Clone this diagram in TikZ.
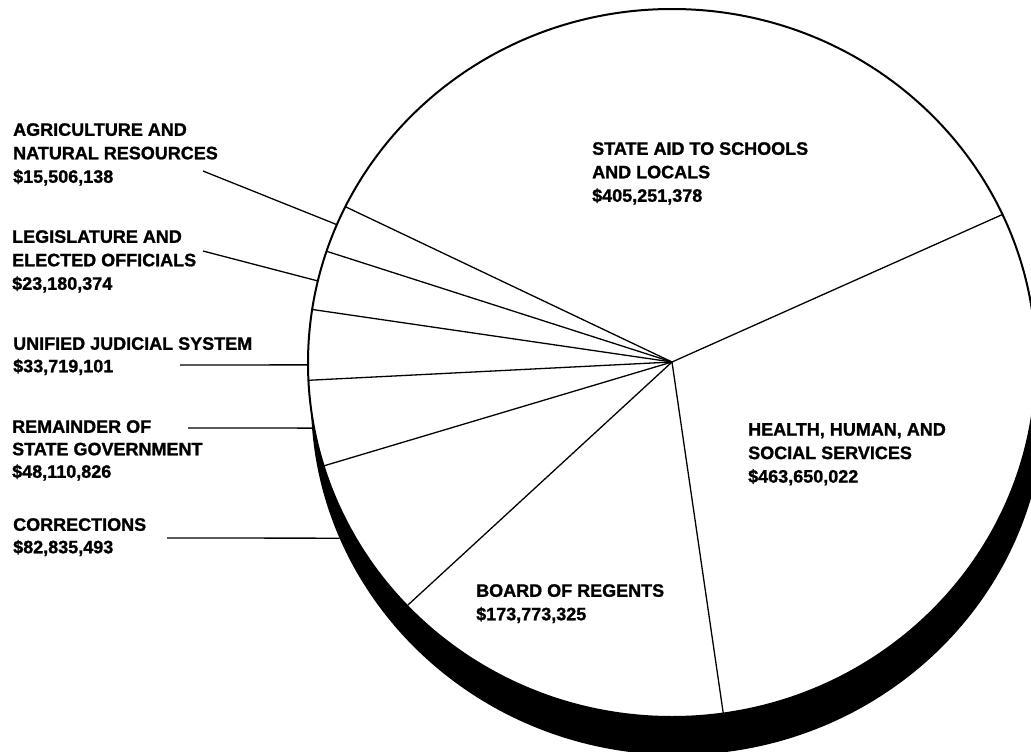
\documentclass[tikz,border=0pt]{standalone}
\usepackage{fontspec}
\setmainfont{Liberation Sans}[BoldFeatures={FakeBold=1.2}]
\usetikzlibrary{calc}
\newcommand\lblfont{\fontsize{18}{23.5}\selectfont\bfseries}
\newcommand\lblfontb{\fontsize{18}{22.5}\selectfont\bfseries}
\tikzset{
  lbl/.style={anchor=north west, inner sep=0pt, align=left, font=\lblfont},
  lblb/.style={lbl, font=\lblfontb},
  spoke/.style={draw=black, line width=1.3pt},
  rim/.style={draw=black, line width=2pt, fill=white},
}
\begin{document}
\begin{tikzpicture}[x=1pt,y=-1pt]
\useasboundingbox (0,0) rectangle (1031,752);
\fill[white] (0,0) rectangle (1031,752);
\clip (0,0) rectangle (1031,752);
% shadow
\coordinate (sh) at (678,401);
\fill[black] (sh) ellipse [x radius=367pt, y radius=354pt];
% pie
\coordinate (o) at (672,363);
\coordinate (c) at (672,362);
\path[rim] (o) ellipse [x radius=364pt, y radius=354pt];
% rim points of spokes
\coordinate (s1) at ($(o)+(24.8:364pt and 354pt)$);
\coordinate (s2) at ($(o)+(278.1:364pt and 354pt)$);
\coordinate (s3) at ($(o)+(223.3:364pt and 354pt)$);
\coordinate (s4) at ($(o)+(196.9:364pt and 354pt)$);
\coordinate (s5) at ($(o)+(182.8:364pt and 354pt)$);
\coordinate (s6) at ($(o)+(171.3:364pt and 354pt)$);
\coordinate (s7) at ($(o)+(161.6:364pt and 354pt)$);
\coordinate (s8) at ($(o)+(153.8:364pt and 354pt)$);
\foreach \s in {s1,s2,s3,s4,s5,s6,s7,s8} \draw[spoke] (c) -- (\s);
% leader rim points
\coordinate (la) at ($(o)+(157.0:364pt and 354pt)$);
\coordinate (ll) at ($(o)+(166.6:364pt and 354pt)$);
\coordinate (lu) at ($(o)+(180.3:364pt and 354pt)$);
\coordinate (lr) at ($(o)+(190.6:364pt and 354pt)$);
\coordinate (lc) at ($(sh)+(202.8:367pt and 354pt)$);
% leader free ends
\coordinate (ea) at (203,171);
\coordinate (el) at (203,251);
\coordinate (eu) at (180,365);
\coordinate (er) at (188,428);
\coordinate (ec) at (167,538);
\draw[spoke] (ea) -- (la);
\draw[spoke] (el) -- (ll);
\draw[spoke] (eu) -- (lu);
\draw[spoke] (er) -- (lr);
\draw[spoke] (ec) -- (lc);
% labels
\node[lbl] (agri) at (13,123) {AGRICULTURE AND\\NATURAL RESOURCES\\\$15,506,138};
\node[lbl] (legis) at (12,230) {LEGISLATURE AND\\ELECTED OFFICIALS\\\$23,180,374};
\node[lblb] (ujs) at (13,337) {UNIFIED JUDICIAL SYSTEM\\\$33,719,101};
\node[lblb] (rem) at (12,420) {REMAINDER OF\\STATE GOVERNMENT\\\$48,110,826};
\node[lblb] (corr) at (13,518) {CORRECTIONS\\\$82,835,493};
\node[lbl] (aid) at (592,142) {STATE AID TO SCHOOLS\\AND LOCALS\\\$405,251,378};
\node[lbl] (hhs) at (748,423) {HEALTH, HUMAN, AND\\SOCIAL SERVICES\\\$463,650,022};
\node[lbl] (bor) at (476,584) {BOARD OF REGENTS\\\$173,773,325};
\end{tikzpicture}
\end{document}
